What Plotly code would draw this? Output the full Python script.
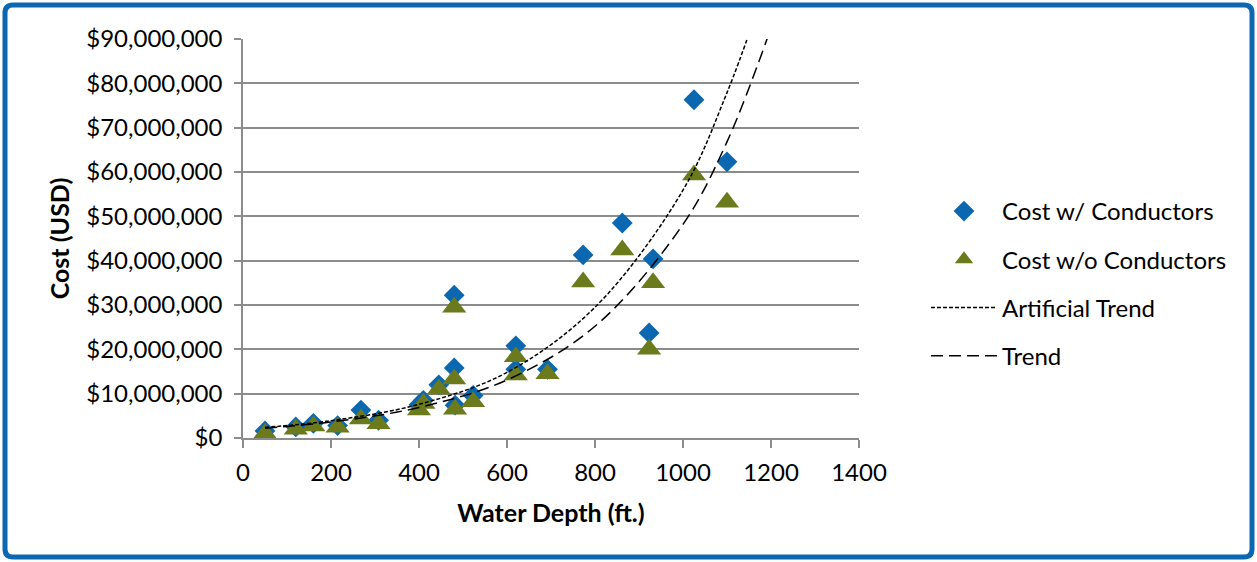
import plotly.graph_objects as go

# ---- data ----
depth = [50, 120, 160, 215, 268, 308, 400, 410, 445, 480, 480, 482, 523,
         620, 620, 692, 773, 862, 923, 932, 1025, 1100]
cost_with = [1.6, 2.5, 3.3, 2.8, 6.3, 4.0, 7.5, 8.5, 12.0, 32.2, 15.8, 7.4, 9.6,
             20.8, 15.5, 15.5, 41.3, 48.5, 23.7, 40.4, 76.3, 62.3]
cost_without = [1.0, 2.0, 2.7, 2.4, 4.3, 3.2, 6.3, 7.8, 11.0, 29.5, 13.3, 6.5, 8.2,
                18.3, 14.2, 14.5, 35.2, 42.4, 20.0, 35.0, 59.3, 53.2]

art_trend_x = [50, 200, 400, 600, 800, 1000, 1100, 1160]
art_trend_y = [2.4, 3.9, 7.6, 14.8, 29.5, 55.9, 77.9, 94.0]
trend_x = [50, 200, 400, 600, 800, 1000, 1100, 1200]
trend_y = [2.2, 3.6, 6.9, 13.1, 25.2, 48.2, 66.8, 92.5]

x_ticks = [0, 200, 400, 600, 800, 1000, 1200, 1400]
y_ticks_m = [0, 10, 20, 30, 40, 50, 60, 70, 80, 90]

M = 1_000_000
FONT = "Lato"
FS = 24
TFS = 25

fig = go.Figure()
fig.add_trace(go.Scatter(
    x=depth, y=[v * M for v in cost_with], mode="markers", name="Cost w/ Conductors",
    marker=dict(symbol="diamond", size=16, color="#0B67B0"), legendgroup="a"))
fig.add_trace(go.Scatter(
    x=depth, y=[v * M for v in cost_without], mode="markers", name="Cost w/o Conductors",
    marker=dict(symbol="triangle-up", size=21, color="#6B7A1C"), legendgroup="b"))
fig.add_trace(go.Scatter(
    x=art_trend_x, y=[v * M for v in art_trend_y], mode="lines", name="Artificial Trend",
    line=dict(color="black", width=1.5, dash="4px,2px", shape="spline"), legendgroup="c"))
fig.add_trace(go.Scatter(
    x=trend_x, y=[v * M for v in trend_y], mode="lines", name="Trend",
    line=dict(color="black", width=1.5, dash="12px,6px", shape="spline"), legendgroup="d"))

L, R, T, B = 243, 1257 - 859, 39, 562 - 438
pw, ph = 616, 399


def px_x(p):
    return (p - L) / pw


def px_y(p):
    return (562 - B - p) / ph


fig.update_layout(
    width=1257, height=562,
    margin=dict(l=L, r=R, t=T, b=B),
    paper_bgcolor="white", plot_bgcolor="white",
    font=dict(family=FONT, size=FS, color="black"),
    showlegend=True,
    legend=dict(x=px_x(926), y=px_y(189), xanchor="left", yanchor="top",
                font=dict(size=FS), tracegroupgap=14, itemwidth=66,
                bgcolor="rgba(0,0,0,0)"),
    xaxis=dict(range=[0, 1400], tickvals=x_ticks, showgrid=False,
               showline=True, linecolor="#8c8c8c", linewidth=1.5,
               ticks="outside", ticklen=8, tickcolor="#8c8c8c", tickwidth=1.5,
               ticklabelstandoff=4,
               title=dict(text="<b>Water Depth (ft.)</b>", font=dict(size=TFS), standoff=20),
               zeroline=False),
    yaxis=dict(range=[0, 90 * M], tickvals=[v * M for v in y_ticks_m],
               tickformat="$,.0f", showgrid=True, gridcolor="#8c8c8c", gridwidth=1.5,
               showline=True, linecolor="#8c8c8c", linewidth=1.5,
               ticks="outside", ticklen=7, tickcolor="#8c8c8c", tickwidth=1.5,
               ticklabelstandoff=7,
               title=dict(text="<b>Cost (USD)</b>", font=dict(size=TFS), standoff=10),
               zeroline=False),
)

# outer blue rounded border
x0, x1 = px_x(5), px_x(1252)
y0, y1 = px_y(557), px_y(5)
rx, ry = 8 / pw, 8 / ph
path = (f"M {x0 + rx},{y1} L {x1 - rx},{y1} Q {x1},{y1} {x1},{y1 - ry} "
        f"L {x1},{y0 + ry} Q {x1},{y0} {x1 - rx},{y0} "
        f"L {x0 + rx},{y0} Q {x0},{y0} {x0},{y0 + ry} "
        f"L {x0},{y1 - ry} Q {x0},{y1} {x0 + rx},{y1} Z")
fig.add_shape(type="path", xref="paper", yref="paper", path=path,
              line=dict(color="#0B67B0", width=5), fillcolor="rgba(0,0,0,0)", layer="below")

fig.write_html("out.html", config={"displayModeBar": False},
               post_script="document.body.style.margin='0';")
